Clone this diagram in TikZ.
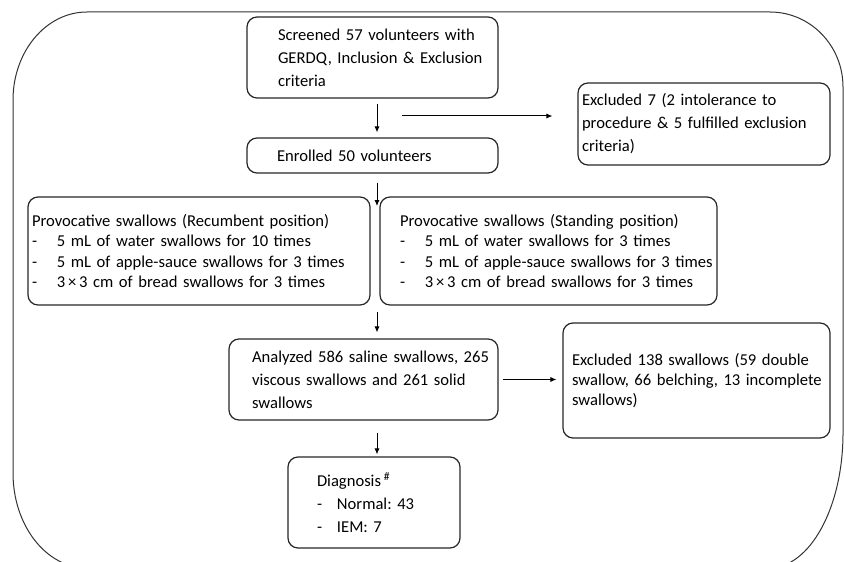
\documentclass[tikz,border=0pt]{standalone}
\usepackage{fontspec}
\setmainfont{Carlito}
\usetikzlibrary{arrows.meta}

\newcommand{\itm}[2][12.5pt]{\makebox[#1][l]{-}#2}

\begin{document}
\frenchspacing
\begin{tikzpicture}[x=0.5pt, y=-0.5pt,
    box/.style={draw=black!85, line width=0.6pt, rounded corners=5pt, inner xsep=0pt, inner ysep=0pt,
        align=left, font=\fontsize{8.3}{11.5}\selectfont},
    pad/.style={execute at begin node={\leftskip=#1\rightskip=-20pt plus 1fil\relax}},
    arr/.style={-{Latex[length=3pt,width=2.6pt]}, line width=0.5pt}]
    \useasboundingbox (0,0) rectangle (844,561);

    % outer frame
    \draw[black!80, line width=0.5pt] (13,100) arc[start angle=180, end angle=270, x radius=74, y radius=88]
        -- (770,12) arc[start angle=270, end angle=360, x radius=73, y radius=75]
        -- (843,433) arc[start angle=0, end angle=90, x radius=74, y radius=135]
        -- (87,568) arc[start angle=90, end angle=180, x radius=74, y radius=95] -- cycle;

    % boxes
    \node[box, pad=15.5pt, text width=125.5pt, minimum height=40.5pt] (screened) at (372.5,57.5)
        {Screened 57 volunteers with\\GERDQ, Inclusion \& Exclusion\\criteria};
    \node[box, pad=15pt, text width=125.5pt, minimum height=17.5pt] (enrolled) at (372.5,155.5)
        {Enrolled 50 volunteers};
    \node[box, pad=2pt, text width=126pt, minimum height=41pt] (excl7) at (704,124)
        {Excluded 7 (2 intolerance to\\procedure \& 5 fulfilled exclusion\\criteria)};

    \node[box, pad=2pt, text width=171pt, minimum height=54pt, font=\fontsize{8.3}{10.3}\selectfont] (recumb) at (199,251)
        {Provocative swallows (Recumbent position)\\
         \itm{5 mL of water swallows for 10 times}\\
         \itm{5 mL of apple-sauce swallows for 3 times}\\
         \itm{3\,×\,3 cm of bread swallows for 3 times}};
    \node[box, pad=10pt, text width=168.5pt, minimum height=54pt, font=\fontsize{8.3}{10.3}\selectfont] (stand) at (548.5,251)
        {Provocative swallows (Standing position)\\
         \itm{5 mL of water swallows for 3 times}\\
         \itm{5 mL of apple-sauce swallows for 3 times}\\
         \itm{3\,×\,3 cm of bread swallows for 3 times}};

    \node[box, pad=11.5pt, text width=134.5pt, minimum height=40.5pt] (analyzed) at (363.5,379.5)
        {Analyzed 586 saline swallows, 265\\viscous swallows and 261 solid\\swallows};
    \node[box, pad=4.5pt, text width=133.5pt, minimum height=57.5pt, font=\fontsize{8.3}{10}\selectfont] (excl138) at (696.5,380.5)
        {Excluded 138 swallows (59 double\\swallow, 66 belching, 13 incomplete\\swallows)};
    \node[box, pad=14.5pt, text width=86pt, minimum height=45.5pt] (diag) at (374,502.5)
        {Diagnosis\,\textsuperscript{\#}\\\itm[10pt]{Normal: 43}\\\itm[10pt]{IEM: 7}};

    % arrows
    \coordinate (split) at (377,206);
    \coordinate (merge) at (377,312);
    \coordinate (exfrom) at (402,116);

    \draw[arr, shorten <=2.5pt, shorten >=2.5pt] (screened.south -| split) -- (enrolled.north -| split);
    \draw[arr, shorten >=12.5pt] (exfrom) -- (exfrom -| excl7.west);
    \draw[arr, shorten <=4.5pt] (enrolled.south -| split) -- (split);
    \draw[arr, shorten >=3pt] (merge) -- (analyzed.north -| merge);
    \draw[arr, shorten <=2pt, shorten >=3pt] (analyzed.east) -- (analyzed.east -| excl138.west);
    \draw[arr, shorten <=6pt, shorten >=1pt] (analyzed.south -| merge) -- (diag.north -| merge);
\end{tikzpicture}
\end{document}
